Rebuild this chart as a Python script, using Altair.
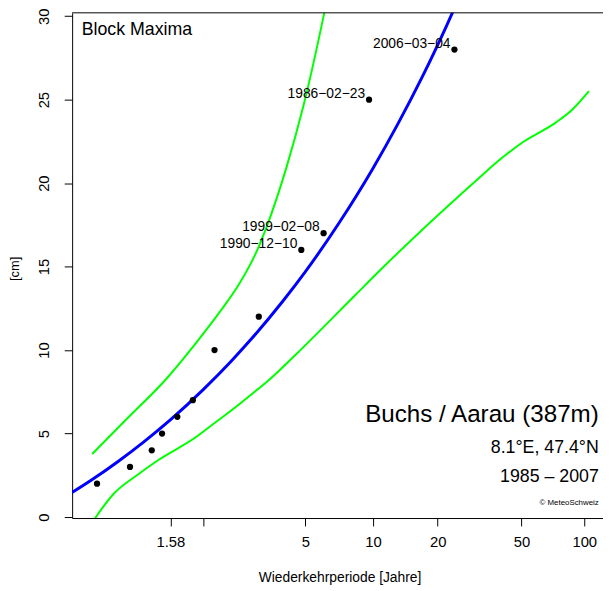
import altair as alt
import numpy as np
import pandas as pd

# ---- observed block maxima (return period in years, snow depth in cm)
obs_T = [1.116, 1.263, 1.412, 1.5, 1.655, 1.846, 2.182, 3.2, 4.8, 6.0, 9.6, 24.0]
obs_cm = [2, 3, 4, 5, 6, 7, 10, 12, 16, 17, 25, 28]
obs_label = ["", "", "", "", "", "", "", "", "1990−12−10", "1999−02−08", "1986−02−23", "2006−03−04"]

# ---- fitted return level curve (blue)
fit_T = [1.04, 1.1, 1.2, 1.35, 1.58, 2, 2.5, 3, 4, 5, 7, 10, 13, 17, 22, 26]
fit_cm = [1.18, 2.23, 3.33, 4.49, 5.82, 7.65, 9.32, 10.69, 12.91, 14.70, 17.58, 20.88, 23.52, 26.41, 29.41, 31.46]

# ---- upper confidence bound (green)
upper_T = [1.101, 1.236, 1.539, 1.911, 2.281, 2.694, 3.092, 3.443, 4.144, 4.897, 6.028, 6.56]
upper_cm = [3.78, 5.78, 8.27, 10.54, 12.3, 14.0, 15.7, 17.4, 20.9, 24.6, 30.14, 32.6]

# ---- lower confidence bound (green)
lower_T = [1.101, 1.179, 1.314, 1.464, 1.911, 2.061, 2.708, 2.87, 3.544, 4.562, 8.32, 10.96,
           34.19, 36.76, 50.9, 73.2, 88.0, 105.3]
lower_cm = [-0.32, 1.38, 2.56, 3.4, 4.85, 5.3, 6.8, 7.12, 8.25, 9.75, 13.3, 14.87,
            20.73, 21.08, 22.46, 23.64, 24.43, 25.51]

# ---- axis ticks
tick_T = [1.58, 2, 5, 10, 20, 50, 100]
tick_labels = ["1.58", "", "5", "10", "20", "50", "100"]
y_ticks = [0, 5, 10, 15, 20, 25, 30]


def gumbel(T):
    """Gumbel reduced variate of a return period (the axis transform)."""
    T = np.asarray(T, dtype=float)
    return -np.log(-np.log(1.0 - 1.0 / T))


obs = pd.DataFrame({"u": gumbel(obs_T), "cm": obs_cm, "label": obs_label})
fit = pd.DataFrame({"u": gumbel(fit_T), "cm": fit_cm})
upper = pd.DataFrame({"u": gumbel(upper_T), "cm": upper_cm})
lower = pd.DataFrame({"u": gumbel(lower_T), "cm": lower_cm})

tick_u = [float(v) for v in gumbel(tick_T)]
label_expr = "".join(
    f"abs(datum.value - ({u:.5f})) < 0.01 ? '{lab}' : " for u, lab in zip(tick_u, tick_labels)
) + "''"

W, H = 538, 512
FONT = "Liberation Sans"

xscale = alt.Scale(domain=[-1.0938, 4.8086], nice=False, zero=False)
yscale = alt.Scale(domain=[-0.059, 30.2], nice=False, zero=False)

xaxis = alt.Axis(
    values=tick_u, labelExpr=label_expr, title="Wiederkehrperiode [Jahre]",
    grid=False, domainColor="black", domainWidth=1, tickColor="black", tickWidth=1,
    tickSize=8, labelFontSize=15, labelColor="black", labelPadding=9,
    labelFlush=False, labelOverlap=False, labelFont=FONT,
    titleFont=FONT, titleFontSize=14, titleFontWeight="normal", titleColor="black",
    titleX=271, titleY=64, titleAlign="center", titleBaseline="alphabetic",
)
yaxis = alt.Axis(
    values=y_ticks, title="[cm]", grid=False, domainColor="black", domainWidth=1,
    tickColor="black", tickWidth=1, tickSize=8, labelFontSize=15, labelColor="black",
    labelAngle=270, labelAlign="center", labelBaseline="alphabetic", labelPadding=16,
    labelFlush=False, labelOverlap=False, labelFont=FONT,
    titleFont=FONT, titleFontSize=13, titleFontWeight="normal", titleColor="black",
    titleAngle=270, titleX=-54, titleY=259, titleAlign="center", titleBaseline="alphabetic",
)

X = alt.X("u:Q", scale=xscale, axis=xaxis)
Y = alt.Y("cm:Q", scale=yscale, axis=yaxis)

upper_line = alt.Chart(upper).mark_line(
    color="#00FF00", strokeWidth=2, clip=True, interpolate="monotone").encode(x=X, y=Y)
lower_line = alt.Chart(lower).mark_line(
    color="#00FF00", strokeWidth=2, clip=True, interpolate="monotone").encode(x=X, y=Y)
fit_line = alt.Chart(fit).mark_line(
    color="#0000FF", strokeWidth=3, clip=True, interpolate="monotone").encode(x=X, y=Y)

points = alt.Chart(obs).mark_circle(color="black", opacity=1, size=40).encode(x=X, y=Y)
labels = alt.Chart(obs).mark_text(
    align="right", baseline="alphabetic", dx=-4, dy=-2, fontSize=14, font=FONT, color="black"
).encode(x=X, y=Y, text="label:N")

top_rule = alt.Chart(pd.DataFrame({"a": [0]})).mark_rule(color="black", strokeWidth=1).encode(
    x=alt.value(0), x2=alt.value(W), y=alt.value(0)
)


def note(txt, x, y, size, align):
    return alt.Chart(pd.DataFrame({"t": [txt]})).mark_text(
        align=align, baseline="alphabetic", fontSize=size, font=FONT, color="black"
    ).encode(x=alt.value(x), y=alt.value(y), text="t:N")


notes = [
    note("Block Maxima", 9.7, 22.7, 18, "left"),
    note("Buchs / Aarau (387m)", W - 4.3, 414.3, 24.5, "right"),
    note("8.1°E, 47.4°N", W - 4.3, 446, 18, "right"),
    note("1985 – 2007", W - 4.3, 475, 18, "right"),
    note("© MeteoSchweiz", W - 4.3, 499, 8, "right"),
]

chart = alt.layer(
    upper_line, lower_line, fit_line, points, labels, top_rule, *notes
).properties(
    width=W, height=H,
    padding={"left": 65, "top": 1, "right": 0, "bottom": 66},
    autosize=alt.AutoSizeParams(type="none"),
).configure(font=FONT).configure_view(stroke=None)

chart.save("out.html", embed_options={"renderer": "svg", "actions": False})
